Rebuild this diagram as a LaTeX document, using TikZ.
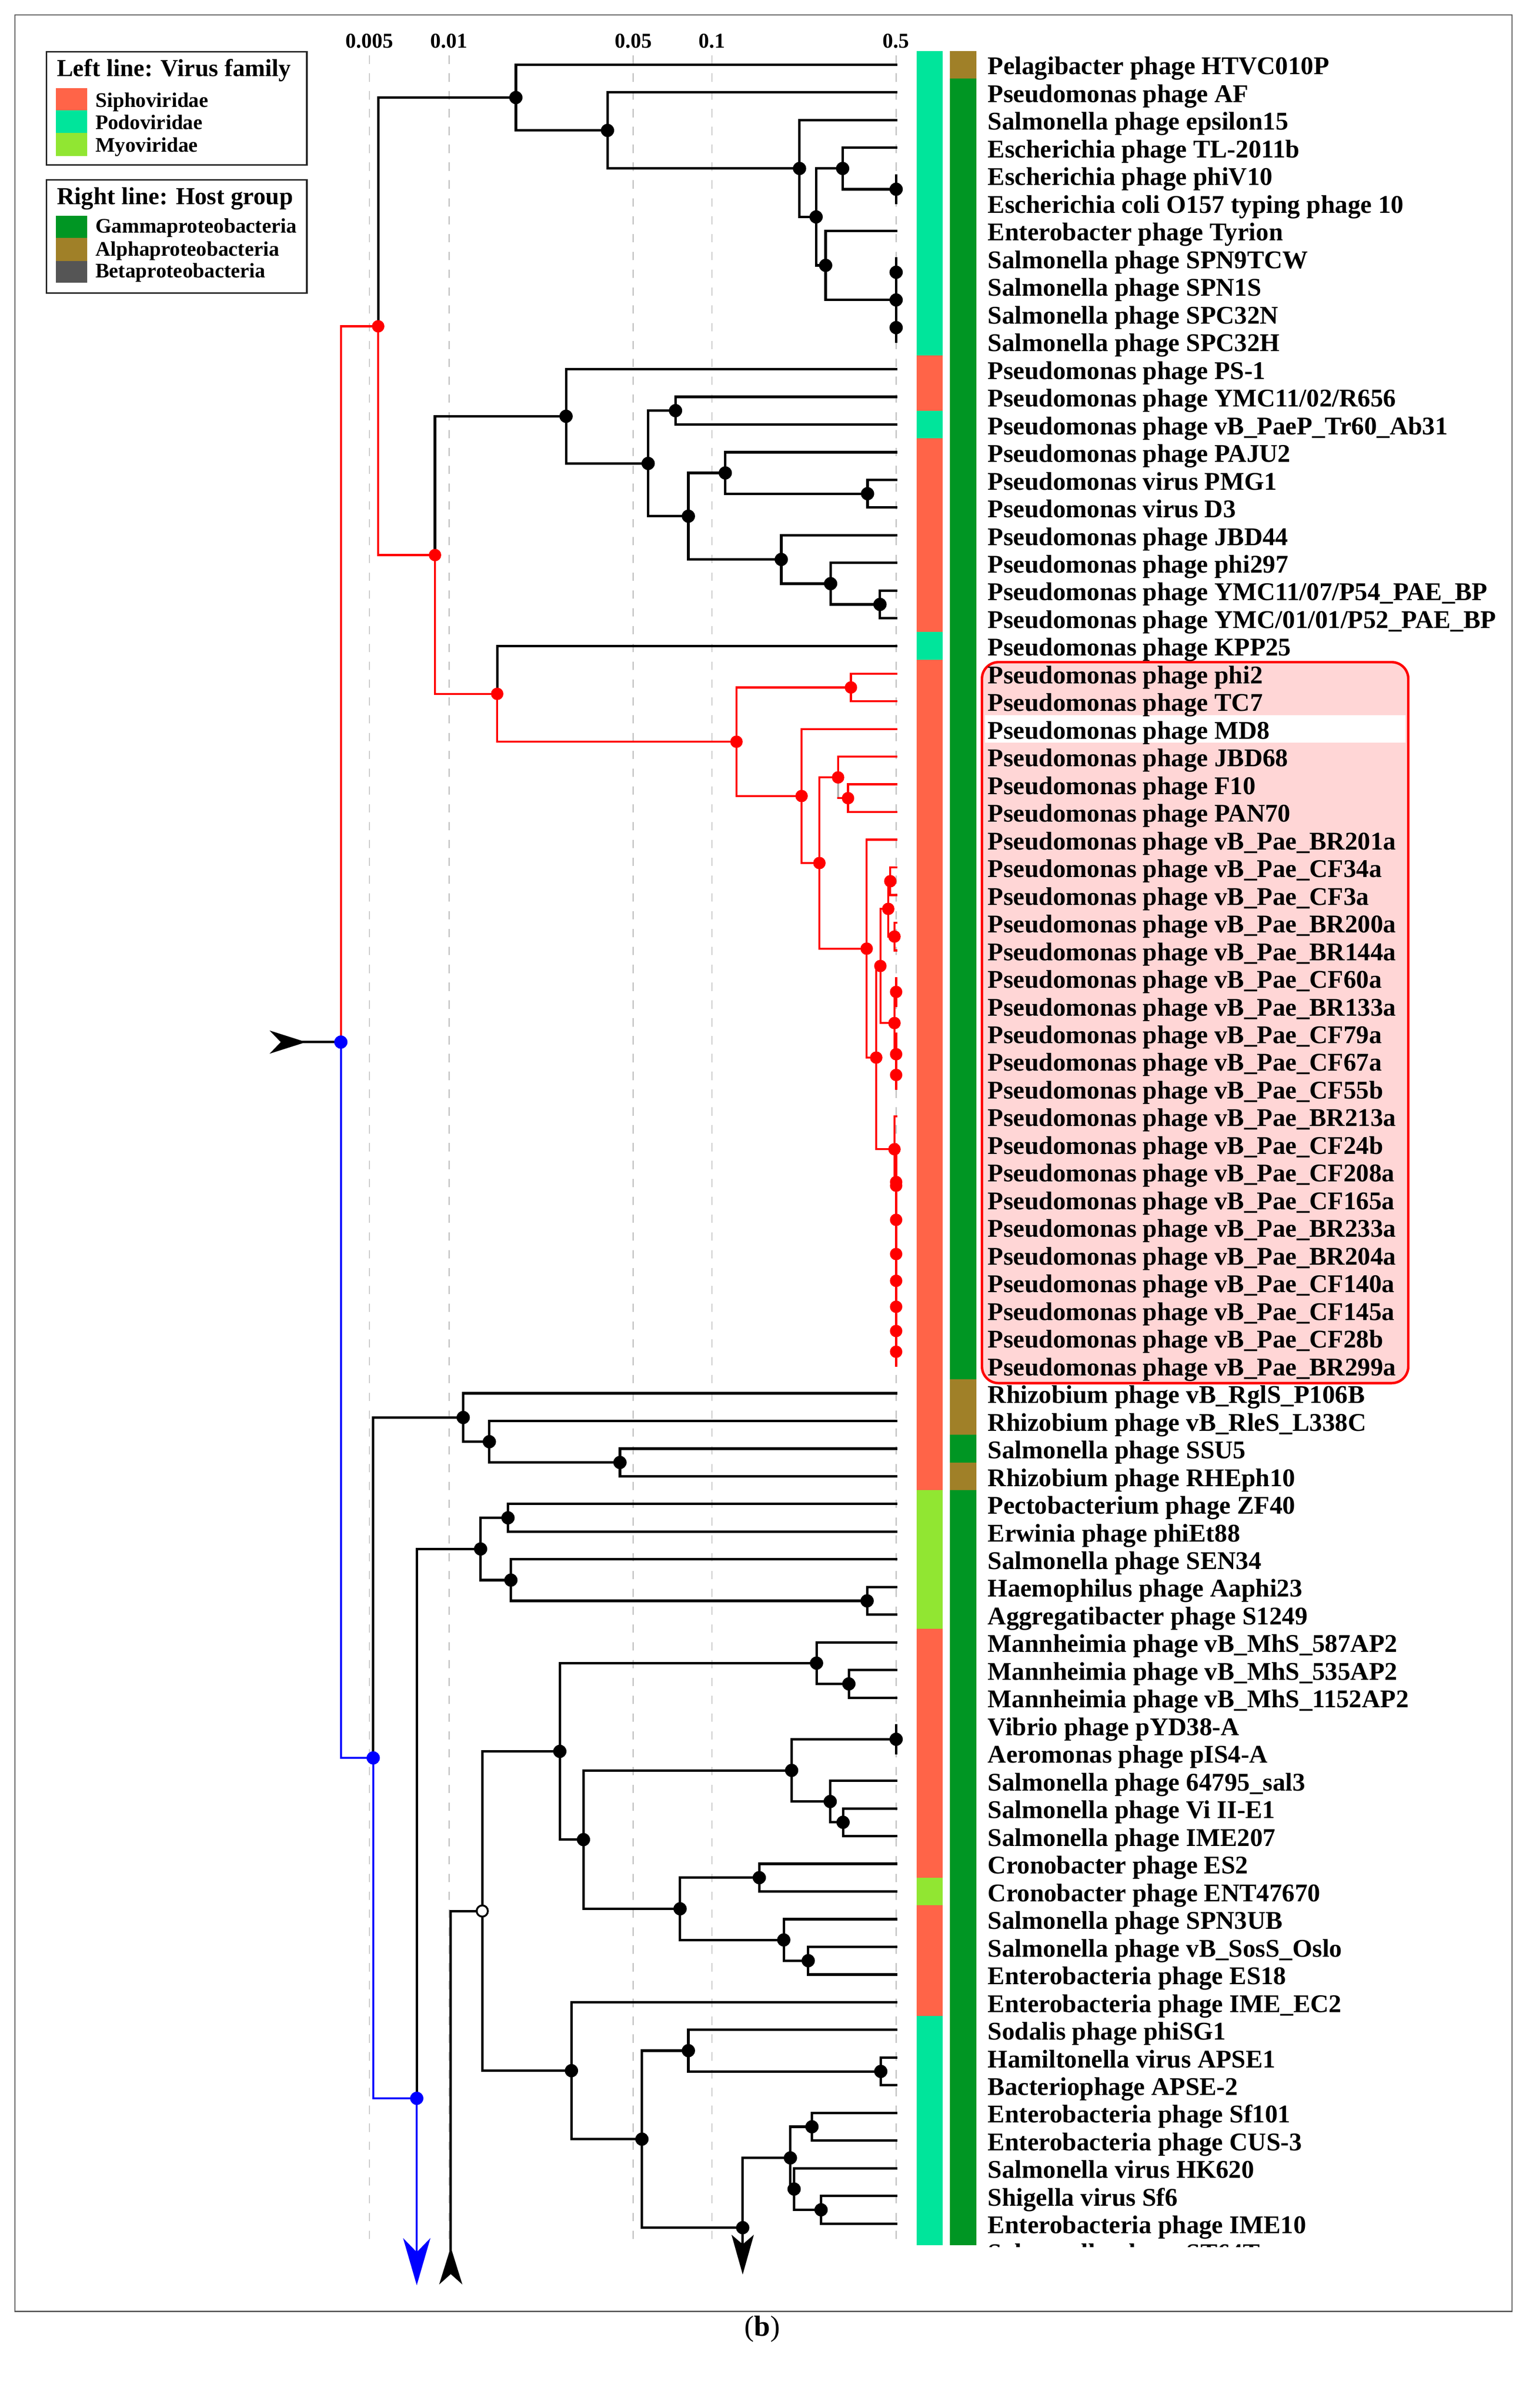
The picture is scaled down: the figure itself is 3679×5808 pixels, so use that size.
\documentclass[tikz,border=0pt]{standalone}
\usepackage{fontspec}
\setmainfont{Liberation Serif}
\usetikzlibrary{calc}
\definecolor{sipho}{RGB}{255,100,72}
\definecolor{podo}{RGB}{0,229,155}
\definecolor{myo}{RGB}{145,230,50}
\definecolor{hostgamma}{RGB}{0,150,35}
\definecolor{hostalpha}{RGB}{160,128,40}
\definecolor{hostbeta}{RGB}{85,85,85}
\definecolor{pinkfill}{RGB}{255,214,214}
\definecolor{gridgray}{RGB}{200,200,200}
\definecolor{framegray}{RGB}{90,90,90}
\newcommand{\famseg}[3]{\fill[#3] (2211,{156+(#1-1.5)*66.76}) rectangle (2273,{156+(#2-0.5)*66.76});}
\newcommand{\hostseg}[3]{\fill[#3] (2291,{156+(#1-1.5)*66.76}) rectangle (2354,{156+(#2-0.5)*66.76});}
\begin{document}
\begin{tikzpicture}[x=1pt,y=-1pt,
  blk/.style={line width=6pt, black, line cap=rect},
  redl/.style={line width=5pt, red, line cap=rect},
  bluel/.style={line width=5pt, blue, line cap=rect},
  bdot/.style={circle, fill=black, inner sep=0pt, minimum size=32pt},
  rdot/.style={circle, fill=red, inner sep=0pt, minimum size=30pt},
  bldot/.style={circle, fill=blue, inner sep=0pt, minimum size=32pt},
  odot/.style={circle, fill=white, draw=black, line width=4.5pt, inner sep=0pt, minimum size=27pt},
  lab/.style={anchor=base west, inner sep=0pt, font=\fontsize{61.5}{66}\selectfont\bfseries},
  ticklab/.style={anchor=base, inner sep=0pt, font=\fontsize{51}{55}\selectfont\bfseries},
  legtitle/.style={anchor=base west, inner sep=0pt, font=\fontsize{59}{62}\selectfont\bfseries},
  legitem/.style={anchor=base west, inner sep=0pt, font=\fontsize{50}{55}\selectfont\bfseries},
  gridline/.style={gridgray, line width=3pt, dash pattern=on 20pt off 23pt},
  legbox/.style={draw=black!85, line width=4pt}
]
\useasboundingbox (0,0) rectangle (3679,5808);
\fill[white] (0,0) rectangle (3679,5808);
% frame
\draw[framegray, line width=3pt] (36,36) rectangle (3646,5575);

% grid
\foreach \gx/\gl in {891/0.005, 1083/0.01, 1527/0.05, 1717/0.1, 2161/0.5}{
  \draw[gridline] (\gx,134) -- (\gx,5400);
  \node[ticklab] (tick\gx) at (\gx,115) {\gl};
}

% legends
\draw[legbox] (112,125) rectangle (740,398);
\node[legtitle] (lt1) at (137,184) {Left line: Virus family};
\fill[sipho] (135,213) rectangle (210,266);
\fill[podo] (135,266) rectangle (210,321);
\fill[myo] (135,321) rectangle (210,376);
\node[legitem] (li1) at (230,258) {Siphoviridae};
\node[legitem] (li2) at (230,312) {Podoviridae};
\node[legitem] (li3) at (230,366) {Myoviridae};
\draw[legbox] (112,434) rectangle (740,707);
\node[legtitle] (lt2) at (137,493) {Right line: Host group};
\fill[hostgamma] (135,520) rectangle (210,574);
\fill[hostalpha] (135,574) rectangle (210,630);
\fill[hostbeta] (135,630) rectangle (210,682);
\node[legitem] (li4) at (230,562) {Gammaproteobacteria};
\node[legitem] (li5) at (230,617) {Alphaproteobacteria};
\node[legitem] (li6) at (230,670) {Betaproteobacteria};

% colour bars
\famseg{1}{11}{podo}
\famseg{12}{13}{sipho}
\famseg{14}{14}{podo}
\famseg{15}{21}{sipho}
\famseg{22}{22}{podo}
\famseg{23}{52}{sipho}
\famseg{53}{57}{myo}
\famseg{58}{66}{sipho}
\famseg{67}{67}{myo}
\famseg{68}{71}{sipho}
\fill[podo] (2211,{156+70.5*66.76}) rectangle (2273,5415);
\hostseg{1}{1}{hostalpha}
\hostseg{2}{48}{hostgamma}
\hostseg{49}{50}{hostalpha}
\hostseg{51}{51}{hostgamma}
\hostseg{52}{52}{hostalpha}
\fill[hostgamma] (2291,{156+51.5*66.76}) rectangle (2354,5415);

% highlight box
\draw[red, line width=6pt, fill=pinkfill, rounded corners=40pt] (2368,1597) rectangle (3396,3336);
\fill[white] (2375,{156+23.5*66.76}) rectangle (3389,{156+24.5*66.76});

% labels
\foreach \lbl [count=\i] in {Pelagibacter phage HTVC010P, Pseudomonas phage AF, Salmonella phage epsilon15, Escherichia phage TL-2011b, Escherichia phage phiV10, Escherichia coli O157 typing phage 10, Enterobacter phage Tyrion, Salmonella phage SPN9TCW, Salmonella phage SPN1S, Salmonella phage SPC32N, Salmonella phage SPC32H, Pseudomonas phage PS-1, Pseudomonas phage YMC11/02/R656, Pseudomonas phage vB\_PaeP\_Tr60\_Ab31, Pseudomonas phage PAJU2, Pseudomonas virus PMG1, Pseudomonas virus D3, Pseudomonas phage JBD44, Pseudomonas phage phi297, Pseudomonas phage YMC11/07/P54\_PAE\_BP, Pseudomonas phage YMC/01/01/P52\_PAE\_BP, Pseudomonas phage KPP25, Pseudomonas phage phi2, Pseudomonas phage TC7, Pseudomonas phage MD8, Pseudomonas phage JBD68, Pseudomonas phage F10, Pseudomonas phage PAN70, Pseudomonas phage vB\_Pae\_BR201a, Pseudomonas phage vB\_Pae\_CF34a, Pseudomonas phage vB\_Pae\_CF3a, Pseudomonas phage vB\_Pae\_BR200a, Pseudomonas phage vB\_Pae\_BR144a, Pseudomonas phage vB\_Pae\_CF60a, Pseudomonas phage vB\_Pae\_BR133a, Pseudomonas phage vB\_Pae\_CF79a, Pseudomonas phage vB\_Pae\_CF67a, Pseudomonas phage vB\_Pae\_CF55b, Pseudomonas phage vB\_Pae\_BR213a, Pseudomonas phage vB\_Pae\_CF24b, Pseudomonas phage vB\_Pae\_CF208a, Pseudomonas phage vB\_Pae\_CF165a, Pseudomonas phage vB\_Pae\_BR233a, Pseudomonas phage vB\_Pae\_BR204a, Pseudomonas phage vB\_Pae\_CF140a, Pseudomonas phage vB\_Pae\_CF145a, Pseudomonas phage vB\_Pae\_CF28b, Pseudomonas phage vB\_Pae\_BR299a, Rhizobium phage vB\_RglS\_P106B, Rhizobium phage vB\_RleS\_L338C, Salmonella phage SSU5, Rhizobium phage RHEph10, Pectobacterium phage ZF40, Erwinia phage phiEt88, Salmonella phage SEN34, Haemophilus phage Aaphi23, Aggregatibacter phage S1249, Mannheimia phage vB\_MhS\_587AP2, Mannheimia phage vB\_MhS\_535AP2, Mannheimia phage vB\_MhS\_1152AP2, Vibrio phage pYD38-A, Aeromonas phage pIS4-A, Salmonella phage 64795\_sal3, Salmonella phage Vi II-E1, Salmonella phage IME207, Cronobacter phage ES2, Cronobacter phage ENT47670, Salmonella phage SPN3UB, Salmonella phage vB\_SosS\_Oslo, Enterobacteria phage ES18, Enterobacteria phage IME\_EC2, Sodalis phage phiSG1, Hamiltonella virus APSE1, Bacteriophage APSE-2, Enterobacteria phage Sf101, Enterobacteria phage CUS-3, Salmonella virus HK620, Shigella virus Sf6, Enterobacteria phage IME10}{
  \node[lab] (t\i) at (2382,{156+(\i-1)*66.76+24}) {\lbl};
}
\begin{scope}
\clip (2300,5380) rectangle (3600,5419);
\node[lab] (t80) at (2382,{156+79*66.76+24}) {Salmonella phage ST64T};
\end{scope}

% leaf ends
\foreach \i in {1,...,80}{ \coordinate (L\i) at (2161,{156+(\i-1)*66.76}); }

% internal nodes
\coordinate (Na) at (1244,235.28);
\coordinate (Nb) at (1465,314.56);
\coordinate (Nc) at (1928,406.35);
\coordinate (Nd) at (1968,523.18);
\coordinate (Ne) at (2032,406.35);
\coordinate (Ng) at (2161,456.42);
\coordinate (Nf) at (1991,640.01);
\coordinate (Nh) at (2161,723.46);
\coordinate (Nha) at (2161,656.70);
\coordinate (Nhb) at (2161,790.22);
\coordinate (K1) at (1365,1004.07);
\coordinate (K2) at (1563,1117.77);
\coordinate (K3) at (1629,990.50);
\coordinate (K4) at (1660,1245.03);
\coordinate (K5) at (1749,1140.71);
\coordinate (K6) at (1884,1349.34);
\coordinate (K7) at (2092,1190.78);
\coordinate (K8) at (2003,1407.75);
\coordinate (K9) at (2122,1457.82);
\coordinate (Root) at (822,2513.49);
\coordinate (R1) at (912,787.03);
\coordinate (R2) at (1049,1338.78);
\coordinate (R3) at (1199,1673.49);
\coordinate (R4) at (1776,1789.01);
\coordinate (R5) at (2052,1658.10);
\coordinate (R6) at (1933,1919.91);
\coordinate (R7) at (1976,2081.58);
\coordinate (R8) at (2021,1875.07);
\coordinate (R10) at (2045,1925.14);
\coordinate (R9) at (2090,2288.09);
\coordinate (R11) at (2113,2550.89);
\coordinate (R12) at (2123,2329.88);
\coordinate (R14) at (2142,2192.18);
\coordinate (R16) at (2147,2125.42);
\coordinate (R17) at (2157,2258.94);
\coordinate (R15) at (2157,2467.57);
\coordinate (Ra) at (2161,2392.46);
\coordinate (Rc) at (2161,2542.67);
\coordinate (Rb) at (2161,2592.74);
\coordinate (R13) at (2157,2771.90);
\coordinate (Ry) at (2161,2850.92);
\coordinate (Rx) at (2161,2942.19);
\coordinate (Rw) at (2161,2859.78);
\coordinate (n43) at (2161,3024.60);
\coordinate (n44) at (2161,3089.27);
\coordinate (n45) at (2161,3151.86);
\coordinate (n46) at (2161,3210.27);
\coordinate (n47) at (2161,3260.34);
\coordinate (B1) at (900,4239.95);
\coordinate (B2) at (1005,5061);
\coordinate (Z1) at (1117,3418.90);
\coordinate (Z2) at (1180,3477.31);
\coordinate (Z3) at (1495,3527.38);
\coordinate (M1) at (1159,3736.01);
\coordinate (M2) at (1225,3660.90);
\coordinate (M3) at (1232,3811.11);
\coordinate (M4) at (2091,3861.18);
\coordinate (O) at (1163,4609.27);
\coordinate (OP) at (1087,4609.27);
\coordinate (P1) at (1350,4224.19);
\coordinate (P2) at (1969,4011.39);
\coordinate (P4) at (2047,4061.46);
\coordinate (P3) at (1407,4436.99);
\coordinate (P5) at (1909,4270.09);
\coordinate (P7) at (2161,4194.98);
\coordinate (P8) at (2002,4345.19);
\coordinate (P9) at (2033,4395.26);
\coordinate (P6) at (1640,4603.89);
\coordinate (P10) at (1831,4528.78);
\coordinate (P11) at (1890,4678.99);
\coordinate (P12) at (1949,4729.06);
\coordinate (Q1) at (1378,4994.35);
\coordinate (Q2) at (1548,5159.5);
\coordinate (Q3) at (1660,4946.03);
\coordinate (Q5) at (2124,4996.10);
\coordinate (Q4) at (1791,5373);
\coordinate (Q6) at (1906,5204.73);
\coordinate (Q7) at (1958,5129.62);
\coordinate (Q8) at (1915,5279.83);
\coordinate (Q9) at (1980,5329.90);
\coordinate (RA) at (738,2513.49);
\coordinate (BA) at (1005,5512);
\coordinate (UA) at (1087,5420);
\coordinate (QA) at (1791,5486);

% black edges
\foreach \p/\c in {Na/L1, Na/Nb, Nb/L2, Nb/Nc, Nc/L3, Nc/Nd, Nd/Ne, Nd/Nf, Ne/L4, Ne/Ng, Ng/L5, Ng/L6, Nf/L7, Nf/Nh, Nh/Nha, Nh/Nhb, Nha/L8, Nha/L9, Nhb/L10, Nhb/L11,
  K1/L12, K1/K2, K2/K3, K2/K4, K3/L13, K3/L14, K4/K5, K4/K6, K5/L15, K5/K7, K7/L16, K7/L17, K6/L18, K6/K8, K8/L19, K8/K9, K9/L20, K9/L21,
  R1/Na, R2/K1, R3/L22,
  B1/Z1, B2/M1, Z1/L49, Z1/Z2, Z2/L50, Z2/Z3, Z3/L51, Z3/L52,
  M1/M2, M1/M3, M2/L53, M2/L54, M3/L55, M3/M4, M4/L56, M4/L57,
  OP/O, O/P1, O/Q1,
  P1/P2, P1/P3, P2/L58, P2/P4, P4/L59, P4/L60, P3/P5, P3/P6, P5/P7, P5/P8, P7/L61, P7/L62, P8/L63, P8/P9, P9/L64, P9/L65, P6/P10, P6/P11, P10/L66, P10/L67, P11/L68, P11/P12, P12/L69, P12/L70,
  Q1/L71, Q1/Q2, Q2/Q3, Q2/Q4, Q3/L72, Q3/Q5, Q5/L73, Q5/L74, Q4/Q6, Q6/Q7, Q6/Q8, Q7/L75, Q7/L76, Q8/L77, Q8/Q9, Q9/L78, Q9/L79}{
  \draw[blk] (\p) |- (\c);
}
% red edges
\foreach \p/\c in {Root/R1, R1/R2, R2/R3, R3/R4, R4/R5, R4/R6, R5/L23, R5/L24, R6/L25, R6/R7, R7/R8, R7/R9, R8/L26, R10/L27, R10/L28, R9/L29, R9/R11, R11/R12, R11/R13, R12/R14, R12/R15, R14/R16, R14/R17, R16/L30, R16/L31, R17/L32, R17/L33, R15/Ra, R15/Rc, Ra/L34, Ra/L35, Rc/L36, Rc/Rb, Rb/L37, Rb/L38, R13/L39, R13/Ry, Ry/L40, Ry/Rx, Rx/Rw, Rx/n43, Rw/L41, Rw/L42, n43/L43, n43/n44, n44/L44, n44/n45, n45/L45, n45/n46, n46/L46, n46/n47, n47/L47, n47/L48}{
  \draw[redl] (\p) |- (\c);
}
\draw[line width=5pt, gray!60] (R8) -- (R8 |- R10);
\draw[redl] (R8 |- R10) -- (R10);
% blue edges
\draw[bluel] (Root) |- (B1);
\draw[bluel] (B1) |- (B2);
\draw[bluel, line cap=butt] (B2) -- ($(BA)+(0,-80)$);
% arrows
\draw[blk, line cap=butt] (Root) -- ($(RA)+(-10,0)$);
\fill[black] (RA) -- ++(-88,-28) -- ++(27,28) -- ++(-27,28) -- cycle;
\fill[blue] (BA) -- ++(-33,-114) -- ++(33,34) -- ++(33,-34) -- cycle;
\draw[blk, line cap=butt] (OP) -- ($(UA)+(0,20)$);
\fill[black] (UA) -- ++(-28,90) -- ++(28,-25) -- ++(28,25) -- cycle;
\draw[blk, line cap=butt] (Q4) -- ($(QA)+(0,-20)$);
\fill[black] (QA) -- ++(-27,-96) -- ++(27,23) -- ++(27,-23) -- cycle;

% dots
\foreach \n in {Na,Nb,Nc,Nd,Ne,Ng,Nf,Nh,Nha,Nhb,K1,K2,K3,K4,K5,K6,K7,K8,K9,Z1,Z2,Z3,M1,M2,M3,M4,P1,P2,P3,P4,P5,P6,P7,P8,P9,P10,P11,P12,Q1,Q2,Q3,Q4,Q5,Q6,Q7,Q8,Q9}{
  \node[bdot] (d\n) at (\n) {};
}
\foreach \n in {R1,R2,R3,R4,R5,R6,R7,R8,R9,R10,R11,R12,R13,R14,R15,R16,R17,Ra,Rb,Rc,Ry,Rx,Rw,n43,n44,n45,n46,n47}{
  \node[rdot] (d\n) at (\n) {};
}
\foreach \n in {Root,B1,B2}{
  \node[bldot] (d\n) at (\n) {};
}
\node[odot] (dO) at (O) {};

% caption
\node[inner sep=0pt, font=\fontsize{70}{74}\selectfont] (cap) at (1838,5618) {(\textbf{b})};
\end{tikzpicture}
\end{document}
